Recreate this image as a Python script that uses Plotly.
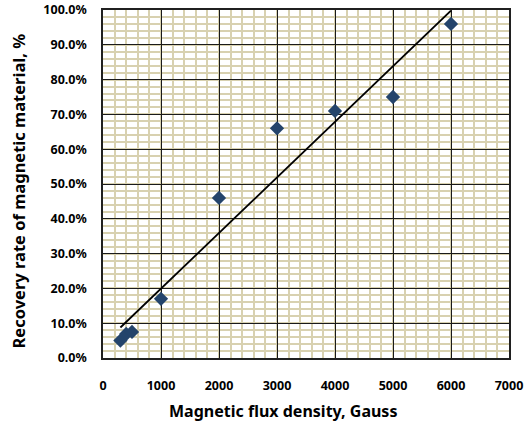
import numpy as np
import plotly.graph_objects as go

flux_gauss = [300, 400, 500, 1000, 2000, 3000, 4000, 5000, 6000]
recovery = [0.05, 0.069, 0.075, 0.17, 0.46, 0.66, 0.71, 0.75, 0.96]

x_ticks = [0, 1000, 2000, 3000, 4000, 5000, 6000, 7000]
y_ticks = [i / 10 for i in range(11)]

x_title = "Magnetic flux density, Gauss"
y_title = "Recovery rate of magnetic material, %"

# linear trend line (least squares), drawn over the data range
slope, intercept = np.polyfit(flux_gauss, recovery, 1)
trend_x = [min(flux_gauss), max(flux_gauss)]
trend_y = [slope * v + intercept for v in trend_x]

font_family = "Noto Sans, DejaVu Sans, sans-serif"

fig = go.Figure()
fig.add_trace(go.Scatter(x=trend_x, y=trend_y, mode="lines",
                         line=dict(color="black", width=1.8), showlegend=False,
                         hoverinfo="skip"))
fig.add_trace(go.Scatter(x=flux_gauss, y=recovery, mode="markers",
                         marker=dict(symbol="diamond", size=11, color="#24446b"),
                         showlegend=False))

axis_common = dict(
    showline=True, linecolor="#202020", linewidth=1.5, mirror=True,
    showgrid=True, gridcolor="#1a1a1a", gridwidth=1,
    zeroline=False, automargin=False,
    ticks="outside", tickcolor="rgba(0,0,0,0)",
    tickfont=dict(family=font_family, size=12.5, color="black", weight="bold"),
)

fig.update_xaxes(
    range=[0, 7000], tickvals=x_ticks, ticklen=15,
    minor=dict(dtick=200, showgrid=True, gridcolor="#d8d1b0", gridwidth=1.5),
    **axis_common,
)
fig.update_yaxes(
    range=[0, 1], tickvals=y_ticks, tickformat=".1%", ticklen=12,
    minor=dict(dtick=0.02, showgrid=True, gridcolor="#d8d1b0", gridwidth=1.5),
    **axis_common,
)

fig.update_layout(
    width=524, height=427,
    margin=dict(l=103, r=15, t=10, b=69),
    plot_bgcolor="white", paper_bgcolor="white",
    annotations=[
        dict(text=x_title, xref="paper", yref="paper", x=0.443, y=-0.152,
             xanchor="center", yanchor="middle", showarrow=False,
             font=dict(family=font_family, size=16, color="black", weight="bold")),
        dict(text=y_title, xref="paper", yref="paper", x=-0.208, y=0.48,
             xanchor="center", yanchor="middle", textangle=-90, showarrow=False,
             font=dict(family=font_family, size=16.5, color="black", weight="bold")),
    ],
)

fig.write_html("out.html")
